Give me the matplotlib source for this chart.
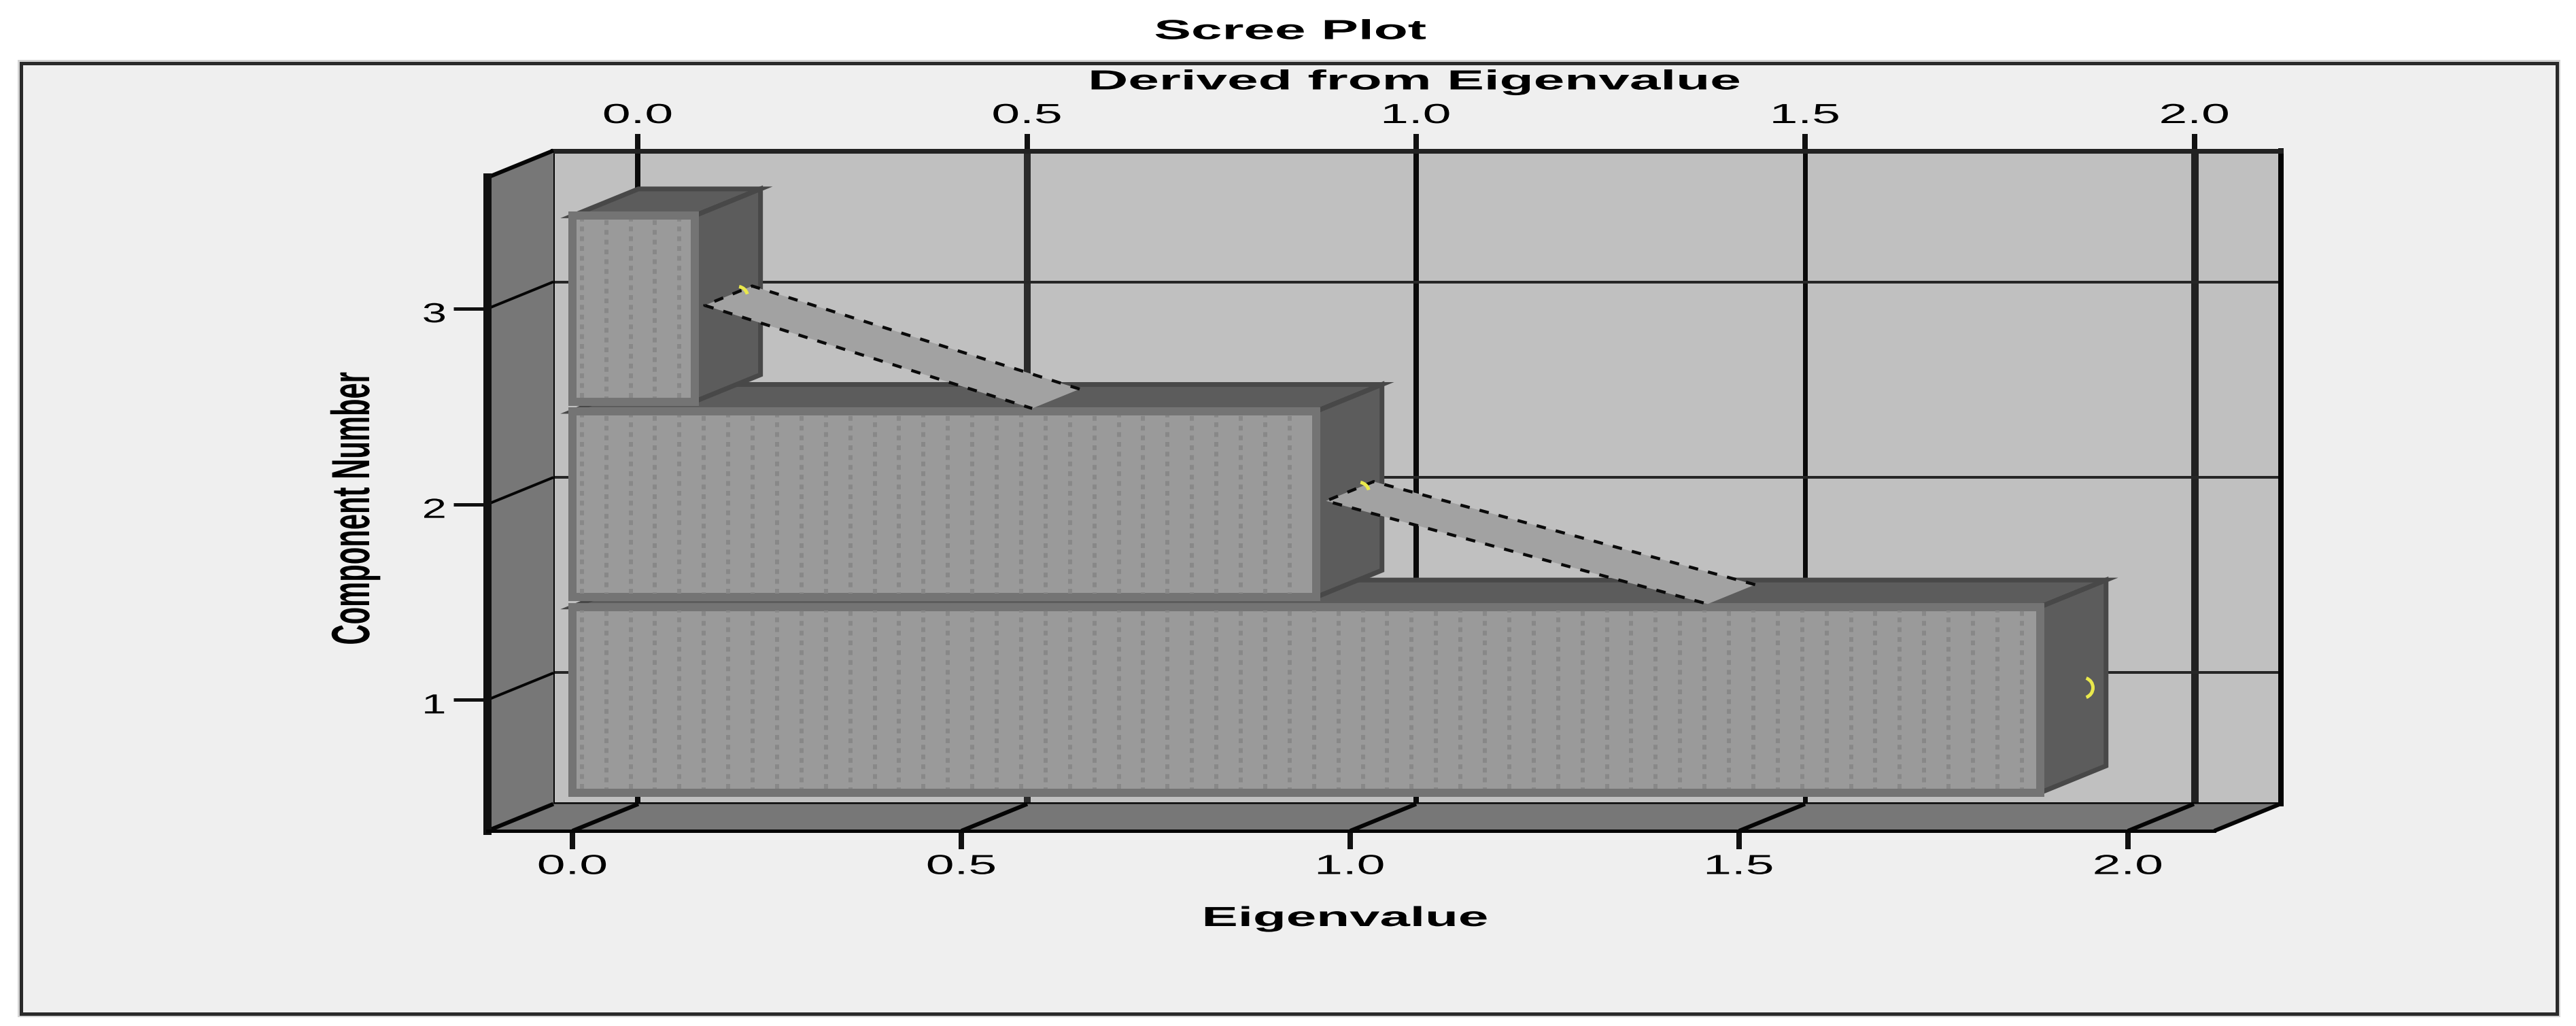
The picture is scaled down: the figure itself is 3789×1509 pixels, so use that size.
import numpy as np
import matplotlib
matplotlib.use("Agg")
import matplotlib.pyplot as plt
from matplotlib.patches import Rectangle, Polygon
from matplotlib.path import Path
from matplotlib.transforms import Affine2D
import matplotlib.patheffects as pe

# ---- data ----
components = [1, 2, 3]
eigenvalues = [1.887, 0.956, 0.157]
x_ticks = [0.0, 0.5, 1.0, 1.5, 2.0]
x_tick_labels = ["0.0", "0.5", "1.0", "1.5", "2.0"]
y_ticks = [1, 2, 3]
y_tick_labels = ["1", "2", "3"]
title_text = "Scree Plot"
top_label = "Derived from Eigenvalue"
x_label = "Eigenvalue"
y_label = "Component Number"

# ---- style ----
W, H = 3789, 1509
DPI = 100
px = 72.0 / DPI
plt.rcParams["lines.scale_dashes"] = False
plt.rcParams["font.family"] = ["Liberation Sans", "DejaVu Sans"]

BG = "#efefef"
WALL = "#c0c0c0"
SIDE_WALL = "#777777"
FACE = "#9a9a9a"
FACE_EDGE = "#747474"
DOT = "#888888"
DARK = "#5c5c5c"
DARK_EDGE = "#484848"
BAND = "#a2a2a2"
YELLOW = "#e9e84c"

XLIM = (-0.1093, 2.111)
YLIM = (0.33, 3.671)
SX = 1144.0          # px per unit on x
DX = 97 / SX         # depth of the 3-D box along x, data units
DY = 39.5 / 287.5    # depth of the 3-D box along y, data units
BAR_H = 0.95


class Stretch(pe.AbstractPathEffect):
    """Draw text stretched along / across its baseline (the source image is anamorphic)."""

    def __init__(self, along=1.0, across=1.0, shift=(0, 0)):
        super().__init__()
        self.along, self.across, self.shift = along, across, shift

    def draw_path(self, renderer, gc, tpath, affine, rgbFace=None):
        ext = tpath.get_extents()
        cx, cy = (ext.x0 + ext.x1) / 2, (ext.y0 + ext.y1) / 2
        t = (Affine2D().translate(-cx, -cy).scale(self.along, self.across)
             .translate(cx, cy) + affine + Affine2D().translate(*self.shift))
        renderer.draw_path(gc, tpath, t, rgbFace)


def rect(l, t, r, b):
    return [l / W, 1 - b / H, (r - l) / W, (b - t) / H]


fig = plt.figure(figsize=(W / DPI, H / DPI), dpi=DPI, facecolor="white")

# outer frame with its faint halo
frame = ((31 / W, 1 - 1491 / H), (3761 - 31) / W, (1491 - 93) / H)
fig.add_artist(Rectangle(*frame, transform=fig.transFigure, fc=BG, ec="#d4d4d4", lw=10 * px, zorder=-6))
fig.add_artist(Rectangle(*frame, transform=fig.transFigure, fc=BG, ec="#2a2a2a", lw=5 * px, zorder=-5))

# ---- back plane ----
back = fig.add_axes(rect(813, 222, 3355, 1182), facecolor=WALL, zorder=1)
back.set_xlim(*XLIM)
back.set_ylim(*YLIM)
back.xaxis.tick_top()
back.set_xticks(x_ticks)
back.set_xticklabels(x_tick_labels)
back.set_yticks(y_ticks)
back.tick_params(axis="y", length=0, labelleft=False)
back.tick_params(axis="x", length=25 * px, width=8 * px, pad=8 * px, labelsize=29.2, color="#111111")
grid_w = [8, 10, 8, 7, 11]
grid_c = ["#0a0a0a", "#2b2b2b", "#0a0a0a", "#0a0a0a", "#222222"]
back.grid(True, axis="both")
for g, w, c in zip(back.get_xgridlines(), grid_w, grid_c):
    g.set_linewidth(w * px)
    g.set_color(c)
for g in back.get_ygridlines():
    g.set_linewidth(4 * px)
    g.set_color("#262626")
for side, lw, c in [("top", 7, "#222222"), ("left", 6, "#050505"),
                    ("right", 8, "#050505"), ("bottom", 5, "#050505")]:
    back.spines[side].set_linewidth(lw * px)
    back.spines[side].set_color(c)
back.xaxis.set_label_position("top")
back.set_xlabel(top_label, fontsize=29.2, fontweight="bold", va="center",
                path_effects=[Stretch(along=2.02)])
back.xaxis.set_label_coords((2081 - 813) / 2542, (1182 - 120.5) / 960)
for lab in back.get_xticklabels():
    lab.set_path_effects([Stretch(along=1.85)])

# ---- front plane ----
ax = fig.add_axes(rect(717, 261, 3257, 1222), facecolor="none", zorder=2)
ax.set_xlim(*XLIM)
ax.set_ylim(*YLIM)
ax.set_xticks(x_ticks)
ax.set_xticklabels(x_tick_labels)
ax.set_yticks(y_ticks)
ax.set_yticklabels(y_tick_labels)
ax.tick_params(axis="x", length=27 * px, width=8 * px, pad=6.5 * px, labelsize=29.2, color="#111111")
ax.tick_params(axis="y", length=50 * px, width=5 * px, pad=17 * px, labelsize=29.2, color="#111111")
for lab in ax.get_xticklabels():
    lab.set_path_effects([Stretch(along=1.85)])
for lab in ax.get_yticklabels():
    lab.set_path_effects([Stretch(along=1.6, shift=(0, -5))])
for s in ("top", "right"):
    ax.spines[s].set_visible(False)
ax.spines["left"].set_linewidth(12 * px)
ax.spines["left"].set_color("#111111")
ax.spines["bottom"].set_linewidth(5 * px)
ax.spines["bottom"].set_color("#050505")

x0, x1 = XLIM
y0, y1 = YLIM
# side wall and floor
ax.add_patch(Polygon([(x0, y0), (x0 + DX, y0 + DY), (x0 + DX, y1 + DY), (x0, y1)],
                     closed=True, fc=SIDE_WALL, ec="none", zorder=0.5, clip_on=False))
ax.add_patch(Polygon([(x0, y0), (x1, y0), (x1 + DX, y0 + DY), (x0 + DX, y0 + DY)],
                     closed=True, fc=SIDE_WALL, ec="none", zorder=0.5, clip_on=False))
# box diagonals
diag = dict(color="#050505", solid_capstyle="butt", clip_on=False, zorder=1)
for xa, ya in [(x0, y0), (x1, y0), (x0, y1)]:
    ax.plot([xa, xa + DX], [ya, ya + DY], lw=6 * px, **diag)
for t in y_ticks:
    ax.plot([x0, x0 + DX], [t, t + DY], lw=4 * px, **diag)
for t in x_ticks:
    ax.plot([t, t + DX], [y0, y0 + DY], lw=6 * px, **diag)

# ---- bars (nearest-to-floor first, upper bars overlap lower ones) ----
STEP_X = 35.9 / SX
DOT_ON, DOT_OFF = 7 * px, 7.4 * px
for c, v in zip(components, eigenvalues):
    z = 2 + c
    top, bot = c + BAR_H / 2, c - BAR_H / 2
    ax.add_patch(Polygon([(0, top), (v, top), (v + DX, top + DY), (DX, top + DY)], closed=True,
                         fc=DARK, ec=DARK_EDGE, lw=7 * px, joinstyle="miter", zorder=z, clip_on=False))
    ax.add_patch(Polygon([(v, bot), (v + DX, bot + DY), (v + DX, top + DY), (v, top)], closed=True,
                         fc=DARK, ec=DARK_EDGE, lw=7 * px, joinstyle="miter", zorder=z, clip_on=False))
    ax.barh([c], [v], height=BAR_H, color=FACE, edgecolor=FACE_EDGE, linewidth=12 * px,
            zorder=z + 0.1, clip_on=False)
    cols = np.arange(0.012, v - 0.008, STEP_X)
    inset = 0.02
    ax.vlines(cols[::2], bot + inset, top - inset, colors=DOT, linewidth=6 * px,
              linestyles=[(0, (DOT_ON, DOT_OFF))], capstyle="butt", zorder=z + 0.2)
    ax.vlines(cols[1::2], bot + inset, top - inset, colors=DOT, linewidth=6 * px,
              linestyles=[(5 * px, (DOT_ON, DOT_OFF))], capstyle="butt", zorder=z + 0.2)

# ---- connecting scree-line ribbons ----
BX, BY = 0.013, 0.017
RIB = 0.72
for i in range(len(components) - 1, 0, -1):
    ca, va = components[i], eigenvalues[i]
    cb, vb = components[i - 1], eigenvalues[i - 1]
    t = (ca + BY - (cb + 0.49)) / (ca - cb)
    xa, ya = va + BX, ca + BY
    xb, yb = xa + t * (vb - va), cb + 0.49
    dx, dy = RIB * DX, RIB * DY
    ax.add_patch(Polygon([(xa, ya), (xa + dx, ya + dy), (xb + dx, yb + dy), (xb, yb)],
                         closed=True, fc=BAND, ec="none", zorder=7, clip_on=False))
    ax.plot([xb + dx, xa + dx, xa, xb], [yb + dy, ya + dy, ya, yb], color="#0a0a0a",
            lw=4.5 * px, ls=(0, (14 * px, 15 * px)), dash_capstyle="butt", zorder=7.5, clip_on=False)

# ---- yellow markers (partly hidden spheres) ----
arc_angles = [(-70, 70), (15, 80), (15, 80)]
for c, v, (a, b) in zip(components, eigenvalues, arc_angles):
    ax.plot([v + 62 / SX], [c + 18 / 287.5], marker=Path.arc(a, b), ms=30 * px,
            mfc="none", mec=YELLOW, mew=5 * px, ls="none", zorder=8, clip_on=False)

# ---- labels ----
fig.text(1898 / W, 1 - 46.5 / H, title_text, ha="center", va="center", fontsize=29.2,
         fontweight="bold", path_effects=[Stretch(along=2.02)])
ax.set_xlabel(x_label, fontsize=29.2, fontweight="bold", va="center",
              path_effects=[Stretch(along=1.97)])
ax.xaxis.set_label_coords((1979 - 717) / 2540, -(1351 - 1222) / 961)
ax.set_ylabel(y_label, fontsize=29.2, fontweight="bold", va="center",
              path_effects=[Stretch(along=1.03, across=1.95)])
ax.yaxis.set_label_coords((522 - 717) / 2540, (1222 - 748) / 961)

fig.savefig("out.png", dpi=DPI, facecolor="white")
